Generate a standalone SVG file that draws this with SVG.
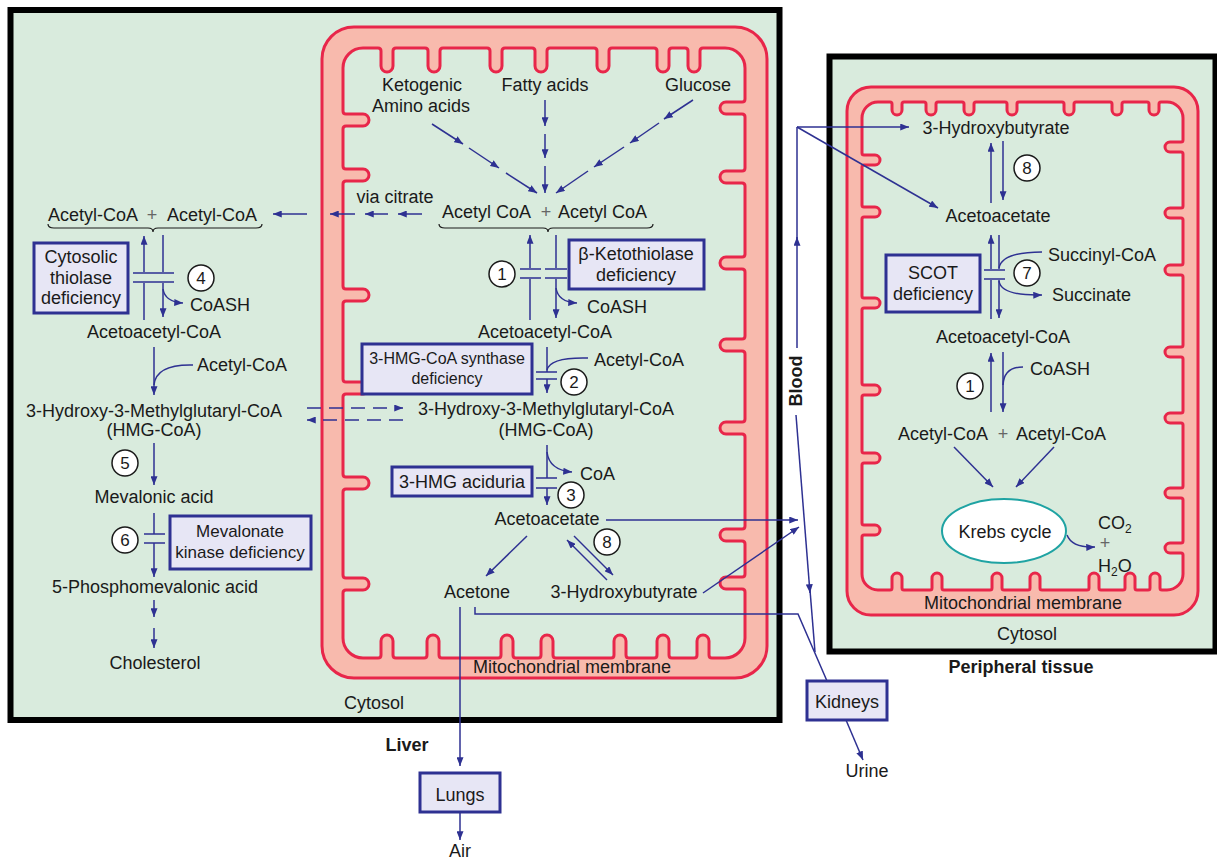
<svg xmlns="http://www.w3.org/2000/svg" width="1217" height="859" viewBox="0 0 1217 859">
<style>
.t{font-family:"Liberation Sans",Arial,Helvetica,sans-serif;font-size:18px;fill:#1a1a1a}
.c{text-anchor:middle}
.b{font-weight:bold}
.g{fill:#666}
.ln{stroke:#2e3192;stroke-width:1.5;fill:none}
.a{marker-end:url(#ah)}
.dash{stroke-dasharray:14 8}
.box{fill:#e7e6f5;stroke:#2e3192;stroke-width:3}
.circ{fill:#fff;stroke:#1a1a1a;stroke-width:1.5}
.num{font-size:17px}
.brace{stroke:#1a1a1a;stroke-width:1.2;fill:none}
.cyto{fill:#d9ebdd;stroke:#000;stroke-width:6}
.mout{fill:#f8baad;stroke:#e8264a;stroke-width:3}
.min{fill:#d9ebdd;stroke:#e8264a;stroke-width:3}
</style>
<defs>
<marker id="ah" viewBox="0 0 10 8" refX="10" refY="4" markerWidth="9" markerHeight="7" markerUnits="userSpaceOnUse" orient="auto"><path d="M0,0 L10,4 L0,8 z" fill="#2e3192"/></marker>
</defs>
<rect width="1217" height="859" fill="#fff"/>

<g id="liver">
<rect class="cyto" x="10.5" y="10" width="769" height="710"/>
<text class="t c" x="374" y="709">Cytosol</text>
<text class="t c b" x="407" y="751">Liver</text>
</g>

<g id="liver-mito">
<rect class="mout" x="322" y="27" width="445" height="651" rx="32"/>
<path class="min" d="M363,48
L378,48 Q381,48 381,51 L381,66 A6,6 0 0 0 393,66 L393,51 Q393,48 396,48
L425,48 Q428,48 428,51 L428,66 A6,6 0 0 0 440,66 L440,51 Q440,48 443,48
L487,48 Q490,48 490,51 L490,66 A6,6 0 0 0 502,66 L502,51 Q502,48 505,48
L532,48 Q535,48 535,51 L535,66 A6,6 0 0 0 547,66 L547,51 Q547,48 550,48
L594,48 Q597,48 597,51 L597,66 A6,6 0 0 0 609,66 L609,51 Q609,48 612,48
L654,48 Q657,48 657,51 L657,66 A6,6 0 0 0 669,66 L669,51 Q669,48 672,48
L685,48 Q688,48 688,51 L688,66 A6,6 0 0 0 700,66 L700,51 Q700,48 703,48
L725,48 A20,20 0 0 1 745,68
L745,99 Q745,102 742,102 L726,102 A6,6 0 0 0 726,114 L742,114 Q745,114 745,117
L745,168 Q745,171 742,171 L726,171 A6,6 0 0 0 726,183 L742,183 Q745,183 745,186
L745,254 Q745,257 742,257 L726,257 A6,6 0 0 0 726,269 L742,269 Q745,269 745,272
L745,336 Q745,339 742,339 L726,339 A6,6 0 0 0 726,351 L742,351 Q745,351 745,354
L745,419 Q745,422 742,422 L726,422 A6,6 0 0 0 726,434 L742,434 Q745,434 745,437
L745,526 Q745,529 742,529 L726,529 A6,6 0 0 0 726,541 L742,541 Q745,541 745,544
L745,574 Q745,577 742,577 L726,577 A6,6 0 0 0 726,589 L742,589 Q745,589 745,592
L745,638 A20,20 0 0 1 725,658
L712,658 Q709,658 709,655 L709,641 A6,6 0 0 0 697,641 L697,655 Q697,658 694,658
L672,658 Q669,658 669,655 L669,641 A6,6 0 0 0 657,641 L657,655 Q657,658 654,658
L629,658 Q626,658 626,655 L626,641 A6,6 0 0 0 614,641 L614,655 Q614,658 611,658
L556,658 Q553,658 553,655 L553,641 A6,6 0 0 0 541,641 L541,655 Q541,658 538,658
L516,658 Q513,658 513,655 L513,641 A6,6 0 0 0 501,641 L501,655 Q501,658 498,658
L442,658 Q439,658 439,655 L439,641 A6,6 0 0 0 427,641 L427,655 Q427,658 424,658
L396,658 Q393,658 393,655 L393,641 A6,6 0 0 0 381,641 L381,655 Q381,658 378,658
L363,658 A20,20 0 0 1 343,638
L343,593 Q343,590 346,590 L363,590 A6,6 0 0 0 363,578 L346,578 Q343,578 343,575
L343,492 Q343,489 346,489 L363,489 A6,6 0 0 0 363,477 L346,477 Q343,477 343,474
L343,397 Q343,394 346,394 L363,394 A6,6 0 0 0 363,382 L346,382 Q343,382 343,379
L343,304 Q343,301 346,301 L363,301 A6,6 0 0 0 363,289 L346,289 Q343,289 343,286
L343,184 Q343,181 346,181 L363,181 A6,6 0 0 0 363,169 L346,169 Q343,169 343,166
L343,129 Q343,126 346,126 L363,126 A6,6 0 0 0 363,114 L346,114 Q343,114 343,111
L343,68 A20,20 0 0 1 363,48 Z"/>
<text class="t c" x="572" y="673">Mitochondrial membrane</text>
</g>

<g id="periph">
<rect class="cyto" x="829.5" y="56.5" width="386" height="595"/>
<text class="t c" x="1027" y="640">Cytosol</text>
<text class="t c b" x="1021" y="673">Peripheral tissue</text>
</g>

<g id="periph-mito">
<rect class="mout" x="847" y="87" width="351" height="528" rx="24"/>
<path class="min" d="M878,102
L890,102 Q892,102 892,104 L892,110 A5,5 0 0 0 902,110 L902,104 Q902,102 904,102
L924,102 Q926,102 926,104 L926,110 A5,5 0 0 0 936,110 L936,104 Q936,102 938,102
L962,102 Q964,102 964,104 L964,110 A5,5 0 0 0 974,110 L974,104 Q974,102 976,102
L1005,102 Q1007,102 1007,104 L1007,110 A5,5 0 0 0 1017,110 L1017,104 Q1017,102 1019,102
L1062,102 Q1064,102 1064,104 L1064,110 A5,5 0 0 0 1074,110 L1074,104 Q1074,102 1076,102
L1110,102 Q1112,102 1112,104 L1112,110 A5,5 0 0 0 1122,110 L1122,104 Q1122,102 1124,102
L1147,102 Q1149,102 1149,104 L1149,110 A5,5 0 0 0 1159,110 L1159,104 Q1159,102 1161,102
L1167,102 A16,16 0 0 1 1183,118
L1183,140 Q1183,142 1181,142 L1170,142 A5,5 0 0 0 1170,152 L1181,152 Q1183,152 1183,154
L1183,206 Q1183,208 1181,208 L1170,208 A5,5 0 0 0 1170,218 L1181,218 Q1183,218 1183,220
L1183,263 Q1183,265 1181,265 L1170,265 A5,5 0 0 0 1170,275 L1181,275 Q1183,275 1183,277
L1183,345 Q1183,347 1181,347 L1170,347 A5,5 0 0 0 1170,357 L1181,357 Q1183,357 1183,359
L1183,411 Q1183,413 1181,413 L1170,413 A5,5 0 0 0 1170,423 L1181,423 Q1183,423 1183,425
L1183,486 Q1183,488 1181,488 L1170,488 A5,5 0 0 0 1170,498 L1181,498 Q1183,498 1183,500
L1183,541 Q1183,543 1181,543 L1170,543 A5,5 0 0 0 1170,553 L1181,553 Q1183,553 1183,555
L1183,574 A16,16 0 0 1 1167,590
L1162,590 Q1160,590 1160,588 L1160,578 A5,5 0 0 0 1150,578 L1150,588 Q1150,590 1148,590
L1137,590 Q1135,590 1135,588 L1135,578 A5,5 0 0 0 1125,578 L1125,588 Q1125,590 1123,590
L1101,590 Q1099,590 1099,588 L1099,578 A5,5 0 0 0 1089,578 L1089,588 Q1089,590 1087,590
L1042,590 Q1040,590 1040,588 L1040,578 A5,5 0 0 0 1030,578 L1030,588 Q1030,590 1028,590
L1004,590 Q1002,590 1002,588 L1002,578 A5,5 0 0 0 992,578 L992,588 Q992,590 990,590
L944,590 Q942,590 942,588 L942,578 A5,5 0 0 0 932,578 L932,588 Q932,590 930,590
L904,590 Q902,590 902,588 L902,578 A5,5 0 0 0 892,578 L892,588 Q892,590 890,590
L878,590 A16,16 0 0 1 862,574
L862,537 Q862,535 864,535 L875,535 A5,5 0 0 0 875,525 L864,525 Q862,525 862,523
L862,465 Q862,463 864,463 L875,463 A5,5 0 0 0 875,453 L864,453 Q862,453 862,451
L862,397 Q862,395 864,395 L875,395 A5,5 0 0 0 875,385 L864,385 Q862,385 862,383
L862,310 Q862,308 864,308 L875,308 A5,5 0 0 0 875,298 L864,298 Q862,298 862,296
L862,219 Q862,217 864,217 L875,217 A5,5 0 0 0 875,207 L864,207 Q862,207 862,205
L862,167 Q862,165 864,165 L875,165 A5,5 0 0 0 875,155 L864,155 Q862,155 862,153
L862,118 A16,16 0 0 1 878,102 Z"/>
<text class="t c" x="1023" y="609">Mitochondrial membrane</text>
</g>

<g id="connectors">
<!-- liver cytosol -->
<path class="ln a" d="M422,214 H398"/>
<path class="ln a" d="M388,214 H365"/>
<path class="ln a" d="M355,214 H330"/>
<path class="ln a" d="M307,214 H273"/>
<path class="ln" d="M144,320 V283"/>
<path class="ln a" d="M144,272 V236"/>
<path class="ln" d="M163,235 V272"/>
<path class="ln a" d="M163,283 V317"/>
<path class="ln" d="M133,273 H174 M133,282 H174"/>
<path class="ln a" d="M163,289 Q165,302 183,303"/>
<path class="ln a" d="M154,347 V395"/>
<path class="ln" d="M193,365 Q156,364 154,385"/>
<path class="ln dash a" d="M307,408 H403"/>
<path class="ln dash a" d="M403,420 H307"/>
<path class="ln a" d="M154,443 V485"/>
<path class="ln" d="M154,513 V534"/>
<path class="ln a" d="M154,543 V577"/>
<path class="ln" d="M144,534 H165 M144,543 H165"/>
<path class="ln a" d="M154,600 V617"/>
<path class="ln a" d="M154,628 V648"/>
<!-- liver mitochondria -->
<path class="ln a" d="M432,124 L463,144"/>
<path class="ln a" d="M469,148 L499,168"/>
<path class="ln a" d="M506,173 L537,193"/>
<path class="ln a" d="M545,100 V126"/>
<path class="ln a" d="M545,134 V158"/>
<path class="ln a" d="M545,166 V193"/>
<path class="ln a" d="M693,100 L664,119"/>
<path class="ln a" d="M659,123 L630,143"/>
<path class="ln a" d="M624,147 L594,167"/>
<path class="ln a" d="M588,171 L556,193"/>
<path class="ln" d="M530,320 V279"/>
<path class="ln a" d="M530,268 V235"/>
<path class="ln" d="M556,235 V268"/>
<path class="ln a" d="M556,279 V318"/>
<path class="ln" d="M520,269 H541 M520,278 H541 M545,269 H567 M545,278 H567"/>
<path class="ln a" d="M556,288 Q558,302 577,303"/>
<path class="ln" d="M547,347 V372"/>
<path class="ln a" d="M547,379 V393"/>
<path class="ln" d="M588,358 Q550,357 547,370"/>
<path class="ln" d="M536,372 H557 M536,379 H557"/>
<path class="ln" d="M547,445 V478"/>
<path class="ln a" d="M547,488 V505"/>
<path class="ln a" d="M547,452 Q549,470 572,472"/>
<path class="ln" d="M536,478 H557 M536,488 H557"/>
<path class="ln a" d="M527,536 L486,576"/>
<path class="ln a" d="M574,536 L613,575"/>
<path class="ln a" d="M607,580 L567,540"/>
<!-- to blood, lungs, kidneys -->
<path class="ln a" d="M460,607 V766"/>
<path class="ln a" d="M460,812 V840"/>
<path class="ln" d="M475,607 V614 H798 L827,681"/>
<path class="ln a" d="M606,520 H798"/>
<path class="ln a" d="M703,593 L799,527"/>
<path class="ln a" d="M797,348 V237"/>
<path class="ln" d="M797,240 V127"/>
<path class="ln a" d="M797,127 H909"/>
<path class="ln a" d="M797,127 L938,208"/>
<path class="ln a" d="M796,415 L810,593"/>
<path class="ln" d="M810,590 L815,652"/>
<path class="ln a" d="M846,720 L863,760"/>
<!-- peripheral mitochondria -->
<path class="ln a" d="M991,203 V143"/>
<path class="ln a" d="M1003,141 V200"/>
<path class="ln" d="M991,319 V280"/>
<path class="ln a" d="M991,269 V235"/>
<path class="ln" d="M999,235 V269"/>
<path class="ln a" d="M999,280 V318"/>
<path class="ln" d="M984,270 H1005 M984,279 H1005"/>
<path class="ln" d="M1042,252 Q1002,252 999,268"/>
<path class="ln a" d="M999,281 Q1001,296 1042,295"/>
<path class="ln a" d="M991,412 V353"/>
<path class="ln a" d="M1003,352 V412"/>
<path class="ln" d="M1023,367 Q1004,367 1003,385"/>
<path class="ln a" d="M954,447 L993,487"/>
<path class="ln a" d="M1054,447 L1016,487"/>
<path class="ln a" d="M1067,535 Q1072,548 1095,547"/>
<!-- braces -->
<path class="brace" d="M48,224 Q48,228 54,228 H148 Q153,228 153,232 Q153,228 158,228 H256 Q262,228 262,224"/>
<path class="brace" d="M439,224 Q439,228 445,228 H543 Q548,228 548,232 Q548,228 553,228 H647 Q653,228 653,224"/>
</g>

<g id="liver-labels">
<text class="t" x="48" y="221">Acetyl-CoA</text>
<text class="t c g" x="152" y="221">+</text>
<text class="t" x="167" y="221">Acetyl-CoA</text>
<text class="t" x="190" y="311">CoASH</text>
<text class="t c" x="154" y="338">Acetoacetyl-CoA</text>
<text class="t" x="197" y="371">Acetyl-CoA</text>
<text class="t c" x="154" y="417">3-Hydroxy-3-Methylglutaryl-CoA</text>
<text class="t c" x="154" y="436">(HMG-CoA)</text>
<text class="t c" x="154" y="503">Mevalonic acid</text>
<text class="t c" x="155" y="593">5-Phosphomevalonic acid</text>
<text class="t c" x="155" y="669">Cholesterol</text>
</g>

<g id="mito-labels">
<text class="t c" x="422" y="91">Ketogenic</text>
<text class="t c" x="421" y="112">Amino acids</text>
<text class="t c" x="545" y="91">Fatty acids</text>
<text class="t c" x="698" y="91">Glucose</text>
<text class="t c" x="395" y="203">via citrate</text>
<text class="t" x="442" y="218">Acetyl CoA</text>
<text class="t c g" x="546" y="218">+</text>
<text class="t" x="558" y="218">Acetyl CoA</text>
<text class="t" x="587" y="313">CoASH</text>
<text class="t c" x="545" y="338">Acetoacetyl-CoA</text>
<text class="t" x="594" y="366">Acetyl-CoA</text>
<text class="t c" x="546" y="415">3-Hydroxy-3-Methylglutaryl-CoA</text>
<text class="t c" x="546" y="436">(HMG-CoA)</text>
<text class="t" x="580" y="480">CoA</text>
<text class="t c" x="547" y="525">Acetoacetate</text>
<text class="t c" x="477" y="598">Acetone</text>
<text class="t c" x="624" y="598">3-Hydroxybutyrate</text>
</g>

<g id="periph-labels">
<text class="t c" x="996" y="134">3-Hydroxybutyrate</text>
<text class="t c" x="998" y="222">Acetoacetate</text>
<text class="t" x="1048" y="261">Succinyl-CoA</text>
<text class="t" x="1052" y="301">Succinate</text>
<text class="t c" x="1003" y="343">Acetoacetyl-CoA</text>
<text class="t" x="1030" y="375">CoASH</text>
<text class="t" x="898" y="440">Acetyl-CoA</text>
<text class="t c g" x="1003" y="440">+</text>
<text class="t" x="1016" y="440">Acetyl-CoA</text>
<text class="t" x="1098" y="529">CO<tspan font-size="12" dy="4">2</tspan></text>
<text class="t c g" x="1105" y="549">+</text>
<text class="t" x="1098" y="572">H<tspan font-size="12" dy="4">2</tspan><tspan dy="-4">O</tspan></text>
</g>

<g id="krebs">
<ellipse cx="1004" cy="531" rx="62" ry="32" fill="#fff" stroke="#1fa3a3" stroke-width="2"/>
<text class="t c" x="1005" y="538">Krebs cycle</text>
</g>

<g id="blood">
<text class="t c b" transform="translate(802,381) rotate(-90)">Blood</text>
</g>

<g id="box-cytosolic-thiolase">
<rect class="box" x="34" y="243" width="94" height="70"/>
<text class="t c" x="81" y="263">Cytosolic</text>
<text class="t c" x="81" y="284">thiolase</text>
<text class="t c" x="81" y="304">deficiency</text>
</g>
<g id="box-mevalonate">
<rect class="box" x="170" y="516" width="141" height="53"/>
<text class="t c" x="240" y="537" style="font-size:17px">Mevalonate</text>
<text class="t c" x="240" y="558" style="font-size:17px">kinase deficiency</text>
</g>
<g id="box-ketothiolase">
<rect class="box" x="569" y="240" width="135" height="49"/>
<text class="t c" x="636" y="260">β-Ketothiolase</text>
<text class="t c" x="636" y="281">deficiency</text>
</g>
<g id="box-hmg-synthase">
<rect class="box" x="362" y="344" width="170" height="50"/>
<text class="t c" x="447" y="364" style="font-size:16px">3-HMG-CoA synthase</text>
<text class="t c" x="447" y="384" style="font-size:16px">deficiency</text>
</g>
<g id="box-hmg-aciduria">
<rect class="box" x="392" y="467" width="140" height="29"/>
<text class="t c" x="462" y="488">3-HMG aciduria</text>
</g>
<g id="box-scot">
<rect class="box" x="886" y="255" width="94" height="57"/>
<text class="t c" x="933" y="279">SCOT</text>
<text class="t c" x="933" y="300">deficiency</text>
</g>
<g id="box-kidneys">
<rect class="box" x="807" y="681" width="80" height="39"/>
<text class="t c" x="847" y="708">Kidneys</text>
</g>
<text class="t c" x="867" y="777">Urine</text>
<g id="box-lungs">
<rect class="box" x="420" y="773" width="80" height="39"/>
<text class="t c" x="460" y="801">Lungs</text>
</g>
<text class="t c" x="460" y="857">Air</text>

<g id="steps">
<circle class="circ" cx="201" cy="278" r="13"/><text class="t c num" x="201" y="284">4</text>
<circle class="circ" cx="125" cy="463" r="13"/><text class="t c num" x="125" y="469">5</text>
<circle class="circ" cx="125" cy="540" r="13"/><text class="t c num" x="125" y="546">6</text>
<circle class="circ" cx="502" cy="274" r="13"/><text class="t c num" x="502" y="280">1</text>
<circle class="circ" cx="574" cy="382" r="13"/><text class="t c num" x="574" y="388">2</text>
<circle class="circ" cx="571" cy="495" r="13"/><text class="t c num" x="571" y="501">3</text>
<circle class="circ" cx="607" cy="542" r="13"/><text class="t c num" x="607" y="548">8</text>
<circle class="circ" cx="1027" cy="168" r="13"/><text class="t c num" x="1027" y="174">8</text>
<circle class="circ" cx="1027" cy="273" r="13"/><text class="t c num" x="1027" y="279">7</text>
<circle class="circ" cx="970" cy="386" r="13"/><text class="t c num" x="970" y="392">1</text>
</g>
</svg>
